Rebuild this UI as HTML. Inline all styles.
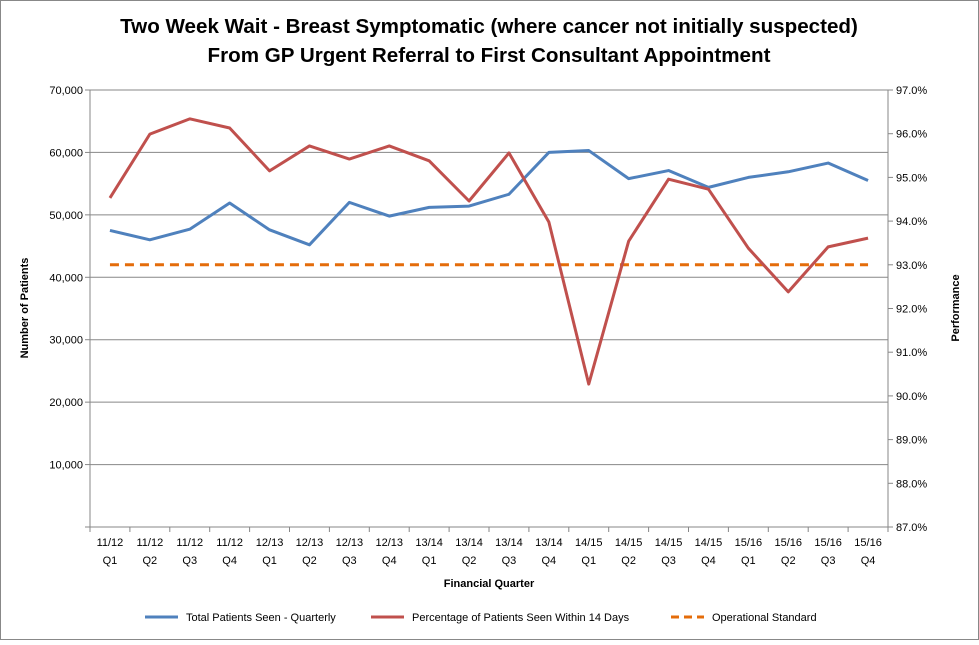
<!DOCTYPE html>
<html><head><meta charset="utf-8"><style>
body{margin:0;background:#fff;font-family:"Liberation Sans",sans-serif}
svg text{font-family:"Liberation Sans",sans-serif}
</style></head><body>
<svg id="c" width="979" height="640" xmlns="http://www.w3.org/2000/svg">
<rect x="0.5" y="0.5" width="978" height="639" fill="#fff" stroke="#888"/>
<text x="489" y="33" text-anchor="middle" font-size="20.6" font-weight="bold">Two Week Wait - Breast Symptomatic (where cancer not initially suspected)</text>
<text x="489" y="62" text-anchor="middle" font-size="20.6" font-weight="bold">From GP Urgent Referral to First Consultant Appointment</text>
<g id="g"></g>
</svg>
<script>
const categories=["11/12|Q1","11/12|Q2","11/12|Q3","11/12|Q4","12/13|Q1","12/13|Q2","12/13|Q3","12/13|Q4","13/14|Q1","13/14|Q2","13/14|Q3","13/14|Q4","14/15|Q1","14/15|Q2","14/15|Q3","14/15|Q4","15/16|Q1","15/16|Q2","15/16|Q3","15/16|Q4"];
const patients=[47500,46000,47700,51900,47600,45200,52000,49800,51200,51400,53300,60000,60300,55800,57100,54400,56000,56900,58300,55500];
const performance=[94.53,95.99,96.34,96.13,95.15,95.72,95.42,95.72,95.38,94.46,95.56,93.98,90.27,93.54,94.96,94.73,93.38,92.38,93.41,93.61];
const standard=[93,93,93,93,93,93,93,93,93,93,93,93,93,93,93,93,93,93,93,93];
const leftTicks=[0,10000,20000,30000,40000,50000,60000,70000];
const rightTicks=[87,88,89,90,91,92,93,94,95,96,97];

const X0=90,X1=888,Y0=527,Y1=90;
const NS="http://www.w3.org/2000/svg";
const g=document.getElementById('g');
const step=(X1-X0)/categories.length;
const xs=i=>X0+step*(i+0.5);
const yl=v=>Y0-(v/70000)*(Y0-Y1);
const yr=v=>Y0-((v-87)/10)*(Y0-Y1);
function mk(t,a,txt){const e=document.createElementNS(NS,t);for(const k in a)e.setAttribute(k,a[k]);if(txt!==undefined)e.textContent=txt;g.appendChild(e);return e;}
leftTicks.forEach(v=>{
 if(v>0){const l=mk('line',{x1:X0,x2:X1,y1:yl(v),y2:yl(v),stroke:'#878787','stroke-width':1});
 
 }
 const t=mk('text',{x:X0-7,y:yl(v)+4,'text-anchor':'end','font-size':11},v===0?'':v.toLocaleString('en-US'));
 
 
 mk('line',{x1:X0-5,x2:X0,y1:yl(v),y2:yl(v),stroke:'#878787'});
});
rightTicks.forEach(v=>{
 const t=mk('text',{x:X1+8,y:yr(v)+4,'font-size':11},v.toFixed(1)+'%');
 
 
 mk('line',{x1:X1,x2:X1+5,y1:yr(v),y2:yr(v),stroke:'#878787'});
});
mk('line',{x1:X0,x2:X0,y1:Y1,y2:Y0,stroke:'#878787'});
mk('line',{x1:X1,x2:X1,y1:Y1,y2:Y0,stroke:'#878787'});
mk('line',{x1:X0,x2:X1,y1:Y0,y2:Y0,stroke:'#878787'});
categories.forEach((c,i)=>{
 mk('line',{x1:X0+step*i,x2:X0+step*i,y1:Y0,y2:Y0+5,stroke:'#878787'});
 const p=c.split('|');
 const t1=mk('text',{x:xs(i),y:546,'text-anchor':'middle','font-size':11},p[0]);
 
 
 const t2=mk('text',{x:xs(i),y:564,'text-anchor':'middle','font-size':11},p[1]);
 
 
});
mk('line',{x1:X1,x2:X1,y1:Y0,y2:Y0+5,stroke:'#878787'});
function poly(arr,fy,col,dash,name){
 const l=mk('polyline',{points:arr.map((v,i)=>xs(i)+','+fy(v)).join(' '),fill:'none',stroke:col,'stroke-width':3,'stroke-linejoin':'round'});
 if(dash)l.setAttribute('stroke-dasharray',dash);
 
 
}
poly(standard,yr,'#e46c0a','9,6','operational-standard-line');
poly(patients,yl,'#4f81bd',null,'total-patients-line');
poly(performance,yr,'#c0504d',null,'percentage-seen-line');
const xt=mk('text',{x:489,y:587,'text-anchor':'middle','font-size':11,'font-weight':'bold'},'Financial Quarter');


const yt=mk('text',{x:0,y:0,'text-anchor':'middle','font-size':11,'font-weight':'bold',transform:'translate(28,308) rotate(-90)'},'Number of Patients');


const yt2=mk('text',{x:0,y:0,'text-anchor':'middle','font-size':11,'font-weight':'bold',transform:'translate(959,308) rotate(-90)'},'Performance');


const leg=[[145,'#4f81bd',null,'Total Patients Seen - Quarterly'],[371,'#c0504d',null,'Percentage of Patients Seen Within 14 Days'],[671,'#e46c0a','8,5','Operational Standard']];
leg.forEach(L=>{
 const l=mk('line',{x1:L[0],x2:L[0]+33,y1:617,y2:617,stroke:L[1],'stroke-width':3});
 if(L[2])l.setAttribute('stroke-dasharray',L[2]);
 
 
 const t=mk('text',{x:L[0]+41,y:621,'font-size':11},L[3]);
 
 
});
</script>
</body></html>
